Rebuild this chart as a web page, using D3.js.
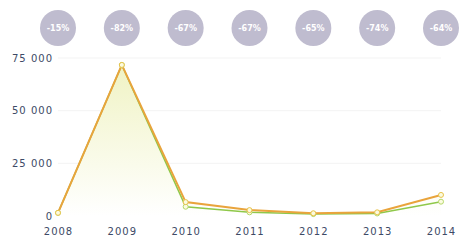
<!DOCTYPE html>
<html lang="ru">
<head>
  <meta charset="UTF-8" />
  <title>chart</title>
  <style>
    body { margin: 0; background: #fff; }
    svg { display: block; }
    .tick text {
      font-family: "DejaVu Sans", sans-serif;
      font-size: 10px;
      letter-spacing: 1px;
      fill: #3d4a66;
    }
    .badge text {
      font-family: "DejaVu Sans", sans-serif;
      font-size: 8px;
      font-weight: bold;
      fill: #fff;
      text-anchor: middle;
    }
  </style>
</head>
<body>
  <svg width="463" height="241"></svg>

  <script src="https://d3js.org/d3.v7.min.js"></script>
  <script>
    // данные
    let years = ['2008', '2009', '2010', '2011', '2012', '2013', '2014'];
    let orangeValues = [1500, 71700, 6600, 2800, 1300, 1750, 10000];
    let greenValues = [1500, 71700, 4400, 1750, 900, 1200, 6800];
    let changeLabels = ['-15%', '-82%', '-67%', '-67%', '-65%', '-74%', '-64%'];
    let yTicks = [0, 25000, 50000, 75000];

    let svg = d3.select('svg');

    let x = d3.scalePoint()
      .domain(years)
      .range([58, 441]);

    let y = d3.scaleLinear()
      .domain([0, 75000])
      .range([216, 58]);

    let fmt = d => d3.format(',')(d).replace(/,/g, ' ');

    // градиент заливки
    let grad = svg.append('defs').append('linearGradient')
      .attr('id', 'fillGrad')
      .attr('x1', 0).attr('y1', 0).attr('x2', 0).attr('y2', 1);
    grad.append('stop').attr('offset', '0%').attr('stop-color', '#f0f3c4');
    grad.append('stop').attr('offset', '100%').attr('stop-color', '#ffffff');

    // сетка
    svg.append('g')
      .selectAll('line')
      .data(yTicks.slice(1))
      .join('line')
      .attr('x1', 58).attr('x2', 441)
      .attr('y1', d => y(d)).attr('y2', d => y(d))
      .attr('stroke', '#f3f3f3');

    // оси
    let yAxis = svg.append('g')
      .attr('transform', 'translate(53,0)')
      .call(d3.axisLeft(y).tickValues(yTicks).tickFormat(fmt).tickSize(0).tickPadding(0));
    yAxis.select('.domain').remove();

    let xAxis = svg.append('g')
      .attr('transform', 'translate(0,228)')
      .call(d3.axisBottom(x).tickSize(0).tickPadding(0));
    xAxis.select('.domain').remove();

    // заливка под оранжевой линией
    let area = d3.area()
      .x((d, i) => x(years[i]))
      .y0(y(0))
      .y1(d => y(d));

    svg.append('path')
      .datum(orangeValues)
      .attr('d', area)
      .attr('fill', 'url(#fillGrad)');

    let line = d3.line()
      .x((d, i) => x(years[i]))
      .y(d => y(d));

    svg.append('path')
      .datum(greenValues)
      .attr('d', line)
      .attr('fill', 'none')
      .attr('stroke', '#8fc84a')
      .attr('stroke-width', 1.5);

    svg.append('path')
      .datum(orangeValues)
      .attr('d', line)
      .attr('fill', 'none')
      .attr('stroke', '#e9a43c')
      .attr('stroke-width', 2);

    // точки
    [greenValues, orangeValues].forEach((vals, k) => {
      svg.append('g')
        .selectAll('circle')
        .data(vals)
        .join('circle')
        .attr('cx', (d, i) => x(years[i]))
        .attr('cy', d => y(d))
        .attr('r', 2.5)
        .attr('fill', '#fbfbe0')
        .attr('stroke', k ? '#e8c24a' : '#b5d86a')
        .attr('stroke-width', 1);
    });

    // кружки с процентами
    let badge = svg.append('g')
      .attr('class', 'badge')
      .selectAll('g')
      .data(changeLabels)
      .join('g')
      .attr('transform', (d, i) => `translate(${x(years[i])},28)`);

    badge.append('circle')
      .attr('r', 18)
      .attr('fill', '#bfbccf');

    badge.append('text')
      .attr('dy', '0.35em')
      .text(d => d);
  </script>
</body>
</html>
